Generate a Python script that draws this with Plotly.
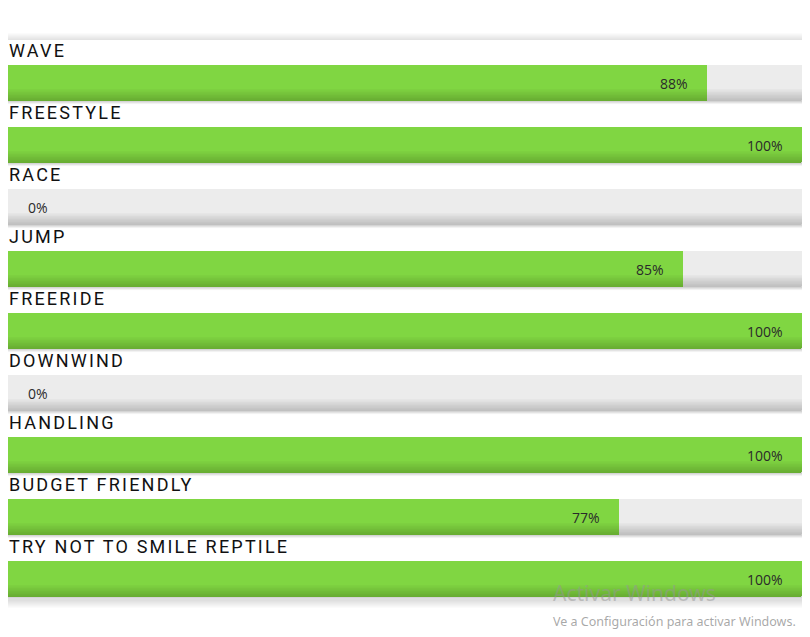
import plotly.graph_objects as go

categories = ["WAVE", "FREESTYLE", "RACE", "JUMP", "FREERIDE", "DOWNWIND",
              "HANDLING", "BUDGET FRIENDLY", "TRY NOT TO SMILE REPTILE"]
values = [88, 100, 0, 85, 100, 0, 100, 77, 100]
pct_labels = [f"{v}%" for v in values]

# page body has an 8px default margin, so the figure starts at (8, 8)
W, H = 794, 621
L, R, T, B = 0, 0, 32, 31
PW, PH = W - L - R, H - T - B   # 794 x 558 plot area (the card)
ROW = 62.0            # px per row
BAR_PX = 36.0
BAR_CENTER_OFF = 43.0  # px from row top to bar centre

GREEN = "#80d642"
GRAY = "#ececec"

n = len(categories)
ys = list(range(n))
top = -BAR_CENTER_OFF / ROW
yrange = [n + top, top]
u = 1.0 / ROW  # data units per px

fig = go.Figure()
fig.add_trace(go.Bar(y=ys, x=[100] * n, orientation="h", width=BAR_PX / ROW,
                     marker=dict(color=GRAY, line=dict(width=0), cornerradius=2),
                     hoverinfo="skip", showlegend=False))
fig.add_trace(go.Bar(y=ys, x=values, orientation="h", width=BAR_PX / ROW,
                     marker=dict(color=GREEN, line=dict(width=0), cornerradius=2),
                     hoverinfo="skip", showlegend=False))

shapes = []
# card shadow
for k in range(1, 9):
    shapes.append(dict(type="rect", xref="paper", yref="paper", layer="below",
                       x0=(-k) / PW, x1=1 + k / PW,
                       y0=(-k - 2) / PH, y1=1 + (k - 1) / PH,
                       fillcolor="rgba(0,0,0,0.016)", line=dict(width=0)))
shapes.append(dict(type="rect", xref="paper", yref="paper", layer="below",
                   x0=0, x1=1, y0=0, y1=1, fillcolor="white", line=dict(width=0)))
# soft shading along the bottom of each bar
for i in ys:
    bottom = i + (BAR_PX / 2) * u
    for k in range(1, 9):
        shapes.append(dict(type="rect", xref="x", yref="y", layer="above",
                           x0=0, x1=100, y0=bottom - 1.5 * k * u, y1=bottom + 0.4 * k * u,
                           fillcolor="rgba(0,0,0,0.022)", line=dict(width=0)))

annotations = []
for i, (c, v, p) in enumerate(zip(categories, values, pct_labels)):
    annotations.append(dict(xref="paper", yref="y", x=0, y=i + (10 - BAR_CENTER_OFF) * u,
                            xanchor="left", yanchor="middle", xshift=-1, showarrow=False,
                            text=f'<span style="letter-spacing:2.2px">{c}</span>',
                            font=dict(family="Roboto", size=18, color="#111111")))
    if v > 0:
        annotations.append(dict(xref="x", yref="y", x=v, y=i, xanchor="right",
                                yanchor="middle", xshift=-17, showarrow=False, text=p,
                                font=dict(family="Open Sans", size=14, color="#2a2a2a")))
    else:
        annotations.append(dict(xref="x", yref="y", x=0, y=i, xanchor="left",
                                yanchor="middle", xshift=18, showarrow=False, text=p,
                                font=dict(family="Open Sans", size=14, color="#2a2a2a")))

# OS watermark visible in the screenshot
annotations.append(dict(xref="paper", yref="paper", x=543 / PW, y=(598 - 593) / PH,
                        xanchor="left", yanchor="middle", showarrow=False,
                        text="Activar Windows",
                        font=dict(family="Noto Sans", size=21, color="rgba(150,150,150,0.5)")))
annotations.append(dict(xref="paper", yref="paper", x=543 / PW, y=(598 - 621) / PH,
                        xanchor="left", yanchor="middle", showarrow=False,
                        text="Ve a Configuración para activar Windows.",
                        font=dict(family="Noto Sans", size=12.5, color="rgba(140,140,140,0.75)")))

fig.update_layout(
    width=W, height=H, margin=dict(l=L, r=R, t=T, b=B),
    paper_bgcolor="white", plot_bgcolor="white",
    barmode="overlay", bargap=0,
    xaxis=dict(range=[0, 100], visible=False, fixedrange=True),
    yaxis=dict(range=yrange, visible=False, fixedrange=True),
    shapes=shapes, annotations=annotations, showlegend=False,
)
fig.write_html("out.html")
